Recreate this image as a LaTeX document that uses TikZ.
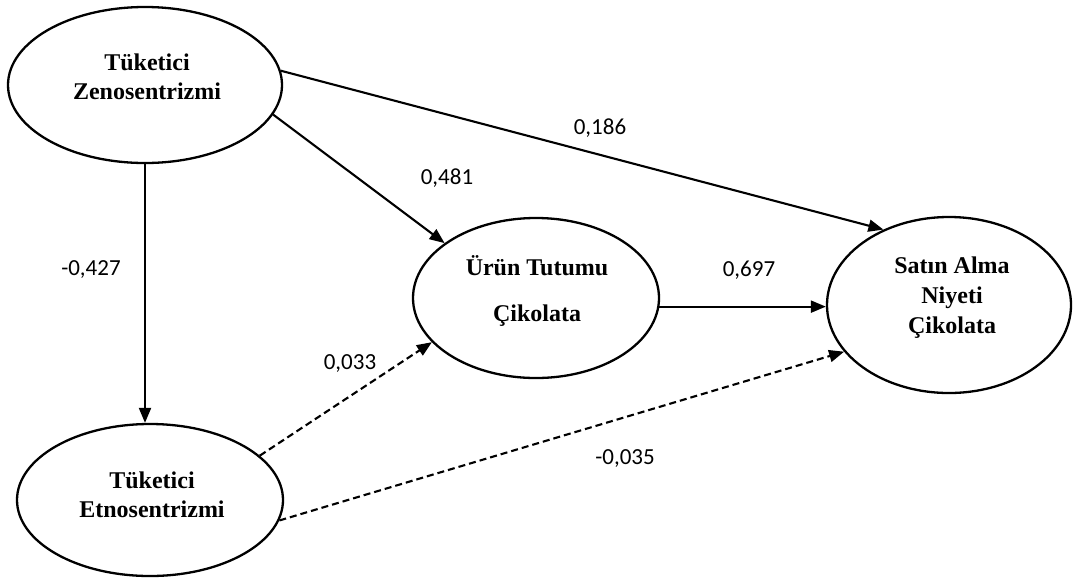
\documentclass[tikz,border=0pt]{standalone}
\usepackage{fontspec}
\setmainfont{Liberation Serif}
\newfontfamily\numfont{Carlito}
\usetikzlibrary{arrows.meta,shapes.geometric}
\begin{document}
\begin{tikzpicture}[x=1pt,y=-1pt,
  construct/.style={draw,line width=2.3pt,ellipse,inner sep=0pt},
  ctext/.style={align=center,font=\bfseries\fontsize{24}{29}\selectfont},
  coef/.style={font=\numfont\fontsize{23}{26}\selectfont},
  path/.style={line width=2.1pt,-{Triangle[length=15pt,width=12pt]}},
  weak/.style={path,dash pattern=on 7pt off 4pt}]
\useasboundingbox (0,0) rectangle (1073,579);

% latent constructs
\node[construct,minimum width=274pt,minimum height=156pt] (zeno) at (145,85) {};
\node[construct,minimum width=266pt,minimum height=152pt] (etno) at (150,500) {};
\node[construct,minimum width=246pt,minimum height=160pt] (urun) at (536,298) {};
\node[construct,minimum width=244pt,minimum height=176pt] (satin) at (949,305) {};

% construct names
\node[ctext] (tzeno) at (147,77) {Tüketici\\Zenosentrizmi};
\node[ctext] (tetno) at (152,495) {Tüketici\\Etnosentrizmi};
\node[ctext,font=\bfseries\fontsize{24}{46}\selectfont] (turun) at (537,291) {Ürün Tutumu\\Çikolata};
\node[ctext,font=\bfseries\fontsize{24}{30}\selectfont] (tsatin) at (952,298) {Satın Alma\\Niyeti\\Çikolata};

% structural paths
\draw[path] (zeno.south) -- (zeno.south |- etno.north);
\draw[path] (zeno.-13) -- (urun.149.4);
\draw[path] (zeno.6) -- (satin.131.2);
\draw[path] (urun.-4) -- (urun.-4 -| satin.west);
\draw[weak] (etno.22.2) -- (urun.203.9);
\draw[weak] (etno.-9.8) -- (satin.204.8);

% path coefficients
\node[coef] (c186) at (600,128) {0,186};
\node[coef] (c481) at (447,178) {0,481};
\node[coef] (c427) at (91,270) {-0,427};
\node[coef] (c697) at (749,270) {0,697};
\node[coef] (c033) at (350,363) {0,033};
\node[coef] (c035) at (625,458) {-0,035};
\end{tikzpicture}
\end{document}
